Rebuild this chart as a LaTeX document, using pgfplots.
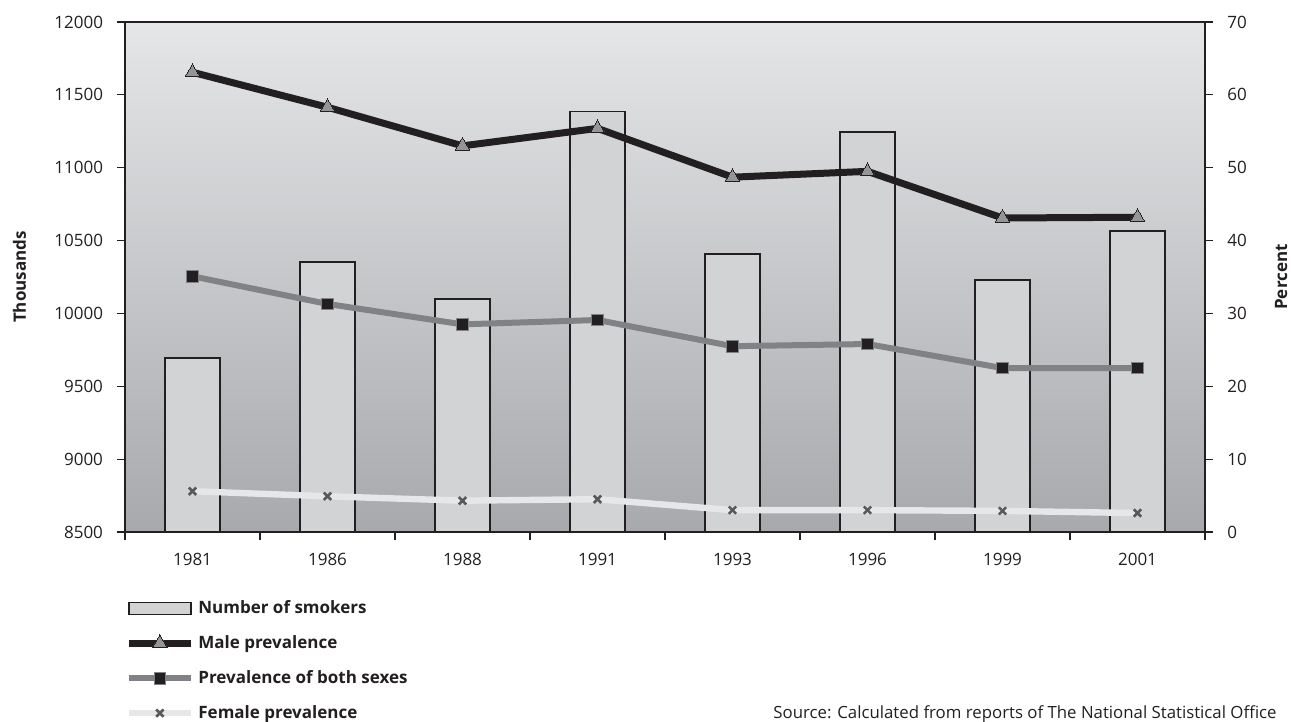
\documentclass[border=0pt]{standalone}
\usepackage{fontspec}
\setmainfont{Open Sans}
\usepackage{pgfplots}
\pgfplotsset{compat=1.18}
\definecolor{gtop}{RGB}{229,230,232}
\definecolor{gbot}{RGB}{167,169,172}
\definecolor{barfill}{RGB}{209,211,212}
\definecolor{darkk}{RGB}{35,31,32}
\definecolor{midgray}{RGB}{128,130,133}
\definecolor{trigray}{RGB}{147,149,152}
\definecolor{femline}{RGB}{230,231,232}
\definecolor{xmark}{RGB}{88,89,91}
\begin{document}
\begin{tikzpicture}
\path[use as bounding box] (-62.5bp,-95bp) rectangle (583bp,266bp);
\pgfplotsset{
 common/.style={
  scale only axis, width=540bp, height=255bp,
  xmin=-0.5, xmax=7.5,
  tick align=outside,
  major tick length=4bp, minor tick length=4bp,
  every tick/.style={darkk, line width=0.6bp},
  axis line style={darkk, line width=0.7bp},
  tick label style={font=\fontsize{8.5bp}{10bp}\selectfont, text=darkk},
  scaled y ticks=false,
  /pgf/number format/.cd, 1000 sep={}, assume math mode=true,
 }
}
\begin{axis}[common,
  ymin=8500, ymax=12000, ytick={8500,9000,...,12000},
  xtick={-0.5,0.5,...,7.5}, xticklabels={},
  extra x ticks={0,1,2,3,4,5,6,7},
  extra x tick labels={1981,1986,1988,1991,1993,1996,1999,2001},
  extra x tick style={major tick length=0pt},
  tick pos=left,
  axis background/.style={shade, top color=gtop, bottom color=gbot},
  ylabel={Thousands},
  every axis y label/.style={at={(axis description cs:-0.0977,0.5)}, rotate=90, anchor=center, font=\bfseries\fontsize{8.5bp}{10bp}\selectfont, text=darkk},
  yticklabel style={xshift=-3.5bp},
  xticklabel style={yshift=-7bp},
]
\addplot[ybar, bar width=27.5bp, bar shift=0pt, fill=barfill, draw=darkk, line width=0.7bp]
 coordinates {(0,9694) (1,10353) (2,10099) (3,11384) (4,10408) (5,11245) (6,10229) (7,10566)};
\end{axis}
\begin{axis}[common,
  ymin=0, ymax=70, ytick={0,10,...,70},
  axis y line*=right, axis x line=none,
  ylabel={Percent},
  every axis y label/.style={at={(axis description cs:1.0704,0.5)}, rotate=90, anchor=center, font=\bfseries\fontsize{8.5bp}{10bp}\selectfont, text=darkk},
  yticklabel style={xshift=3.7bp},
  legend image code/.code={\draw[mark repeat=2,mark phase=2,#1] plot coordinates {(0bp,0bp)(15.5bp,0bp)(31bp,0bp)};},
  legend cell align=left,
  legend style={at={(axis description cs:0,-0.1255)}, anchor=north west, draw=none, fill=none,
    inner sep=0pt, row sep=5.5bp, column sep=0bp,
    font=\bfseries\fontsize{8.5bp}{10bp}\selectfont, text=darkk},
]
\addlegendimage{legend image code/.code={\draw[fill=barfill,draw=darkk,line width=0.7bp] (0bp,-3bp) rectangle (31bp,3bp);}}
\addlegendentry{Number of smokers}
\addplot[darkk, line width=3.5bp, mark=triangle*, mark size=4.3bp, mark options={fill=trigray, draw=none, line width=0pt}]
 coordinates {(0,63.1) (1,58.3) (2,53.0) (3,55.4) (4,48.7) (5,49.5) (6,43.1) (7,43.2)};
\addlegendentry{Male prevalence}
\addplot[midgray, line width=3bp, mark=square*, mark size=2.9bp, mark options={fill=darkk, draw=none, line width=0pt}]
 coordinates {(0,35.1) (1,31.3) (2,28.5) (3,29.1) (4,25.5) (5,25.8) (6,22.5) (7,22.5)};
\addlegendentry{Prevalence of both sexes}
\addplot[femline, line width=3.2bp, mark=x, mark size=2.6bp, mark options={draw=xmark, line width=1.3bp}]
 coordinates {(0,5.6) (1,4.9) (2,4.3) (3,4.5) (4,3.0) (5,3.0) (6,2.9) (7,2.6)};
\addlegendentry{Female prevalence}
\end{axis}
\node[anchor=base east, font=\fontsize{8.4bp}{10bp}\selectfont, text=darkk, inner sep=0pt] at (576bp,-93bp) {Source: Calculated from reports of The National Statistical Office};
\end{tikzpicture}
\end{document}
